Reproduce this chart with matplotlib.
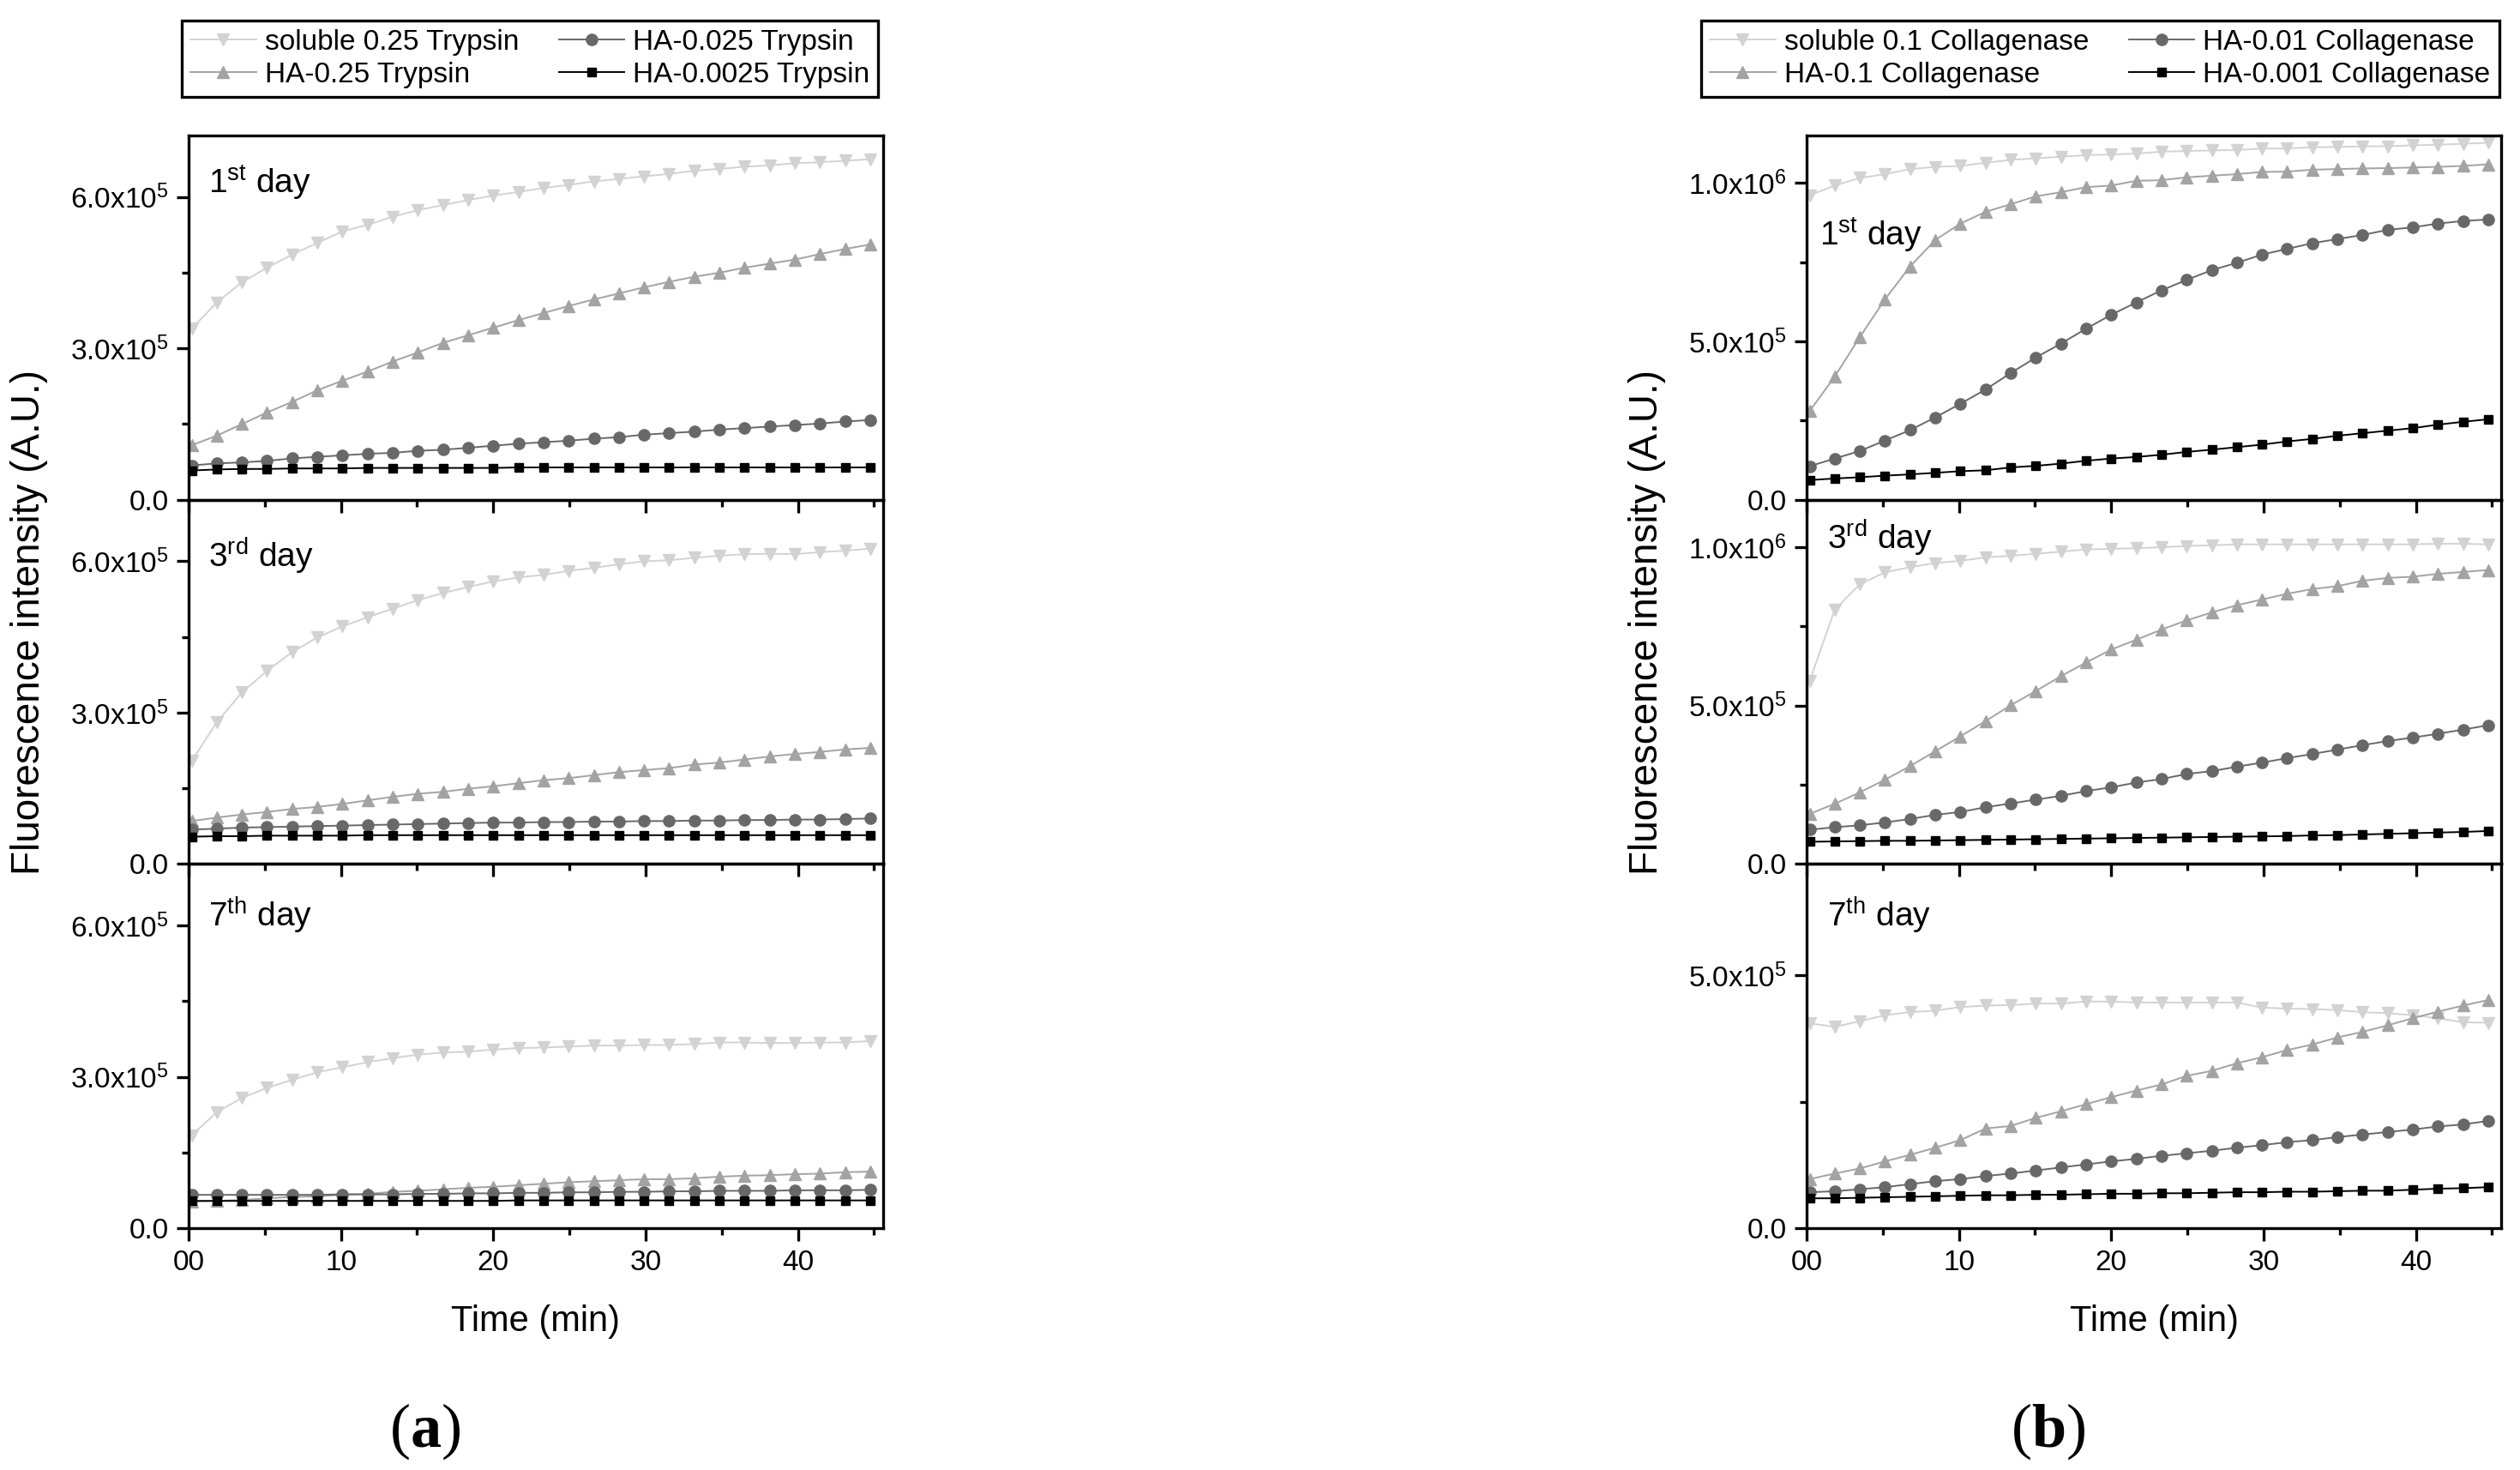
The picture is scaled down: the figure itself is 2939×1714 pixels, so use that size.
"""Fluorescence vs time for HA-bound vs soluble enzymes (trypsin / collagenase), days 1, 3, 7."""
import matplotlib

matplotlib.use("Agg")
import matplotlib.pyplot as plt  # noqa: E402
from matplotlib.lines import Line2D  # noqa: E402

plt.rcParams["font.family"] = ["Liberation Sans", "DejaVu Sans"]
plt.rcParams["mathtext.fontset"] = "custom"
plt.rcParams["mathtext.rm"] = "Liberation Sans"
plt.rcParams["mathtext.it"] = "Liberation Sans:italic"
plt.rcParams["mathtext.bf"] = "Liberation Serif:bold"

# ---- data (intensity in units of 1e5 A.U.) ----
time_min = [0.2, 1.85, 3.5, 5.15, 6.8, 8.45, 10.1, 11.75, 13.4, 15.05, 16.7, 18.35, 20.0, 21.65,
            23.3, 24.95, 26.6, 28.25, 29.9, 31.55, 33.2, 34.85, 36.5, 38.15, 39.8, 41.45, 43.1, 44.75]

# trypsin
sol_a1 = [3.39, 3.91, 4.31, 4.60, 4.86, 5.09, 5.32, 5.45, 5.61, 5.74, 5.84, 5.94, 6.03, 6.10,
          6.18, 6.24, 6.31, 6.36, 6.41, 6.46, 6.52, 6.56, 6.60, 6.63, 6.67, 6.69, 6.72, 6.75]
hi_a1 = [1.08, 1.27, 1.50, 1.73, 1.94, 2.17, 2.36, 2.54, 2.74, 2.92, 3.11, 3.26, 3.41, 3.56,
         3.70, 3.84, 3.97, 4.09, 4.21, 4.32, 4.42, 4.50, 4.60, 4.68, 4.76, 4.87, 4.97, 5.06]
mid_a1 = [0.68, 0.72, 0.74, 0.77, 0.82, 0.85, 0.88, 0.91, 0.93, 0.97, 0.99, 1.03, 1.07, 1.11,
          1.14, 1.17, 1.21, 1.24, 1.29, 1.32, 1.35, 1.39, 1.42, 1.45, 1.48, 1.51, 1.55, 1.58]
low_a1 = [0.58, 0.60, 0.61, 0.61, 0.62, 0.62, 0.62, 0.63, 0.63, 0.63, 0.63, 0.63, 0.63, 0.64,
          0.64, 0.64, 0.64, 0.64, 0.64, 0.64, 0.64, 0.64, 0.64, 0.64, 0.64, 0.64, 0.64, 0.64]

sol_a3 = [2.04, 2.81, 3.40, 3.83, 4.20, 4.49, 4.71, 4.89, 5.06, 5.23, 5.37, 5.49, 5.60, 5.68,
          5.73, 5.81, 5.87, 5.94, 6.00, 6.02, 6.07, 6.11, 6.14, 6.15, 6.14, 6.18, 6.21, 6.25]
hi_a3 = [0.85, 0.92, 0.98, 1.03, 1.09, 1.13, 1.19, 1.26, 1.33, 1.39, 1.43, 1.49, 1.54, 1.60,
         1.66, 1.70, 1.76, 1.82, 1.86, 1.90, 1.97, 2.01, 2.07, 2.13, 2.18, 2.22, 2.27, 2.30]
mid_a3 = [0.68, 0.70, 0.72, 0.73, 0.74, 0.75, 0.76, 0.77, 0.78, 0.79, 0.80, 0.81, 0.82, 0.82,
          0.83, 0.83, 0.84, 0.84, 0.85, 0.85, 0.86, 0.86, 0.87, 0.87, 0.88, 0.88, 0.89, 0.90]
low_a3 = [0.54, 0.55, 0.55, 0.56, 0.56, 0.56, 0.56, 0.57, 0.57, 0.57, 0.57, 0.57, 0.57, 0.57,
          0.57, 0.57, 0.57, 0.57, 0.57, 0.57, 0.57, 0.57, 0.57, 0.57, 0.57, 0.57, 0.57, 0.57]

sol_a7 = [1.84, 2.30, 2.58, 2.78, 2.94, 3.09, 3.19, 3.29, 3.37, 3.44, 3.48, 3.50, 3.54, 3.57,
          3.58, 3.60, 3.62, 3.62, 3.63, 3.63, 3.65, 3.68, 3.68, 3.67, 3.67, 3.68, 3.68, 3.71]
hi_a7 = [0.53, 0.54, 0.56, 0.59, 0.62, 0.63, 0.66, 0.68, 0.72, 0.74, 0.77, 0.80, 0.82, 0.85,
         0.88, 0.91, 0.93, 0.95, 0.97, 0.97, 0.99, 1.02, 1.04, 1.05, 1.07, 1.08, 1.11, 1.12]
mid_a7 = [0.66, 0.66, 0.66, 0.66, 0.66, 0.66, 0.67, 0.67, 0.67, 0.68, 0.68, 0.69, 0.69, 0.70,
          0.70, 0.71, 0.71, 0.72, 0.72, 0.73, 0.73, 0.74, 0.74, 0.74, 0.75, 0.75, 0.75, 0.76]
low_a7 = [0.54, 0.54, 0.54, 0.54, 0.54, 0.54, 0.54, 0.54, 0.54, 0.54, 0.54, 0.54, 0.54, 0.55,
          0.55, 0.55, 0.55, 0.55, 0.55, 0.55, 0.55, 0.55, 0.55, 0.55, 0.55, 0.55, 0.55, 0.55]

# collagenase
sol_b1 = [9.61, 9.92, 10.16, 10.28, 10.44, 10.51, 10.54, 10.64, 10.73, 10.78, 10.83, 10.88, 10.90, 10.93,
          10.99, 11.01, 11.03, 11.04, 11.09, 11.09, 11.13, 11.14, 11.16, 11.16, 11.19, 11.21, 11.24, 11.27]
hi_b1 = [2.80, 3.89, 5.14, 6.33, 7.37, 8.20, 8.72, 9.09, 9.33, 9.58, 9.71, 9.87, 9.92, 10.07,
         10.09, 10.18, 10.23, 10.28, 10.35, 10.36, 10.42, 10.44, 10.46, 10.47, 10.49, 10.51, 10.54, 10.59]
mid_b1 = [1.06, 1.30, 1.54, 1.87, 2.20, 2.60, 3.03, 3.48, 4.00, 4.49, 4.93, 5.40, 5.84, 6.23,
          6.61, 6.94, 7.25, 7.48, 7.74, 7.92, 8.10, 8.23, 8.36, 8.52, 8.60, 8.72, 8.80, 8.85]
low_b1 = [0.62, 0.67, 0.71, 0.76, 0.80, 0.85, 0.90, 0.93, 1.02, 1.07, 1.14, 1.23, 1.30, 1.35,
          1.42, 1.51, 1.58, 1.66, 1.74, 1.84, 1.92, 2.02, 2.10, 2.18, 2.26, 2.37, 2.46, 2.54]

sol_b3 = [5.78, 8.03, 8.83, 9.21, 9.37, 9.50, 9.57, 9.68, 9.73, 9.79, 9.86, 9.93, 9.95, 9.97,
          10.00, 10.04, 10.06, 10.09, 10.09, 10.09, 10.09, 10.09, 10.09, 10.09, 10.09, 10.11, 10.11, 10.09]
hi_b3 = [1.58, 1.90, 2.26, 2.66, 3.09, 3.56, 4.03, 4.51, 5.01, 5.46, 5.93, 6.36, 6.77, 7.08,
         7.40, 7.69, 7.94, 8.17, 8.35, 8.53, 8.68, 8.77, 8.94, 9.03, 9.07, 9.16, 9.22, 9.28]
mid_b3 = [1.08, 1.16, 1.22, 1.31, 1.42, 1.55, 1.64, 1.79, 1.91, 2.03, 2.15, 2.30, 2.42, 2.57,
          2.68, 2.84, 2.93, 3.07, 3.20, 3.34, 3.47, 3.61, 3.75, 3.88, 3.99, 4.11, 4.24, 4.38]
low_b3 = [0.70, 0.71, 0.72, 0.73, 0.73, 0.74, 0.75, 0.76, 0.77, 0.78, 0.79, 0.80, 0.81, 0.82,
          0.83, 0.84, 0.85, 0.86, 0.87, 0.88, 0.90, 0.91, 0.93, 0.95, 0.97, 0.99, 1.01, 1.04]

sol_b7 = [4.05, 3.98, 4.09, 4.21, 4.27, 4.30, 4.37, 4.40, 4.41, 4.44, 4.44, 4.48, 4.48, 4.46,
          4.46, 4.46, 4.46, 4.46, 4.36, 4.34, 4.33, 4.31, 4.27, 4.25, 4.21, 4.15, 4.07, 4.06]
hi_b7 = [0.97, 1.08, 1.18, 1.32, 1.45, 1.59, 1.74, 1.97, 2.02, 2.18, 2.31, 2.45, 2.59, 2.72,
         2.84, 3.01, 3.11, 3.26, 3.38, 3.52, 3.63, 3.77, 3.88, 4.01, 4.15, 4.28, 4.40, 4.51]
mid_b7 = [0.71, 0.73, 0.77, 0.81, 0.87, 0.93, 0.97, 1.03, 1.08, 1.14, 1.20, 1.26, 1.32, 1.37,
          1.43, 1.48, 1.53, 1.59, 1.64, 1.70, 1.74, 1.80, 1.85, 1.90, 1.95, 2.01, 2.05, 2.12]
low_b7 = [0.59, 0.59, 0.60, 0.61, 0.62, 0.63, 0.64, 0.65, 0.65, 0.66, 0.66, 0.67, 0.68, 0.68,
          0.69, 0.69, 0.70, 0.71, 0.71, 0.72, 0.72, 0.73, 0.74, 0.74, 0.76, 0.78, 0.79, 0.81]

labels_a = ["soluble 0.25 Trypsin", "HA-0.25 Trypsin", "HA-0.025 Trypsin", "HA-0.0025 Trypsin"]
labels_b = ["soluble 0.1 Collagenase", "HA-0.1 Collagenase", "HA-0.01 Collagenase", "HA-0.001 Collagenase"]
day_labels = [r"1$^{\mathrm{st}}$ day", r"3$^{\mathrm{rd}}$ day", r"7$^{\mathrm{th}}$ day"]
x_ticks = [0, 10, 20, 30, 40]
x_ticklabels = ["00", "10", "20", "30", "40"]

# ---- style ----
STYLES = [
    dict(color="#d2d2d2", marker="v", ms=10.5),
    dict(color="#a3a3a3", marker="^", ms=10.5),
    dict(color="#686868", marker="o", ms=9.5),
    dict(color="#000000", marker="s", ms=7.5),
]
W, H = 2939, 1714
LW = 2.4


def fx(px):
    return px / W


def fy(px):
    return 1 - px / H


def style_axis(ax, ylim, major, minor, ticklabels, bottom):
    ax.set_facecolor("none")
    ax.set_xlim(0, 45.6)
    ax.set_ylim(0, ylim)
    ax.set_xticks(x_ticks)
    ax.set_xticks([5, 15, 25, 35, 45], minor=True)
    ax.set_xticklabels(x_ticklabels if bottom else [])
    ax.set_yticks(major)
    ax.set_yticklabels(ticklabels)
    ax.set_yticks(minor, minor=True)
    for s in ax.spines.values():
        s.set_linewidth(LW)
    ax.tick_params(which="major", direction="out", length=11, width=LW, labelsize=24, pad=7)
    ax.tick_params(which="minor", direction="out", length=6, width=LW)
    ax.tick_params(axis="y", which="major", length=10)


fig = plt.figure(figsize=(W / 100, H / 100), dpi=100)

panel_top, panel_bot = 158, 1432
ph = (panel_bot - panel_top) / 3

sides = [
    dict(left=220, data=[(sol_a1, hi_a1, mid_a1, low_a1), (sol_a3, hi_a3, mid_a3, low_a3),
                         (sol_a7, hi_a7, mid_a7, low_a7)],
         ylims=[7.22, 7.22, 7.22],
         majors=[[0, 3, 6]] * 3, minors=[[1.5, 4.5]] * 3,
         tlabels=[["0.0", r"3.0x10$^{5}$", r"6.0x10$^{5}$"]] * 3,
         day_pos=[(0.028, 0.925), (0.028, 0.90), (0.028, 0.915)],
         labels=labels_a, leg_left=212, letter="a", letter_x=496),
    dict(left=2107, data=[(sol_b1, hi_b1, mid_b1, low_b1), (sol_b3, hi_b3, mid_b3, low_b3),
                          (sol_b7, hi_b7, mid_b7, low_b7)],
         ylims=[11.5, 11.5, 7.2],
         majors=[[0, 5, 10], [0, 5, 10], [0, 5]], minors=[[2.5, 7.5], [2.5, 7.5], [2.5]],
         tlabels=[["0.0", r"5.0x10$^{5}$", r"1.0x10$^{6}$"], ["0.0", r"5.0x10$^{5}$", r"1.0x10$^{6}$"],
                  ["0.0", r"5.0x10$^{5}$"]],
         day_pos=[(0.018, 0.78), (0.03, 0.95), (0.03, 0.915)],
         labels=labels_b, leg_left=1984, letter="b", letter_x=2389),
]

for side in sides:
    left = side["left"]
    handles = []
    # bottom panel first so upper panels' outward ticks draw on top
    for row in (2, 1, 0):
        ax = fig.add_axes([fx(left), fy(panel_top + (row + 1) * ph), 810 / W, ph / H])
        for series, st in zip(side["data"][row], STYLES):
            ax.plot(time_min, series, color=st["color"], marker=st["marker"], ms=st["ms"],
                    lw=1.4, mec=st["color"], mfc=st["color"])
        style_axis(ax, side["ylims"][row], side["majors"][row], side["minors"][row],
                   side["tlabels"][row], bottom=(row == 2))
        dx, dy = side["day_pos"][row]
        ax.text(dx, dy, day_labels[row], transform=ax.transAxes, fontsize=28,
                ha="left", va="top")
    for lab, st in zip(side["labels"], STYLES):
        handles.append(Line2D([], [], color=st["color"], marker=st["marker"], ms=st["ms"],
                              lw=1.4, mec=st["color"], mfc=st["color"], label=lab))
    leg = fig.legend(handles=handles, ncol=2, loc="upper left",
                     bbox_to_anchor=(fx(side["leg_left"]), fy(24)), fontsize=24,
                     frameon=True, fancybox=False, edgecolor="black", framealpha=1,
                     handlelength=2.3, handletextpad=0.3, columnspacing=1.4,
                     borderpad=0.3, labelspacing=0.2, borderaxespad=0)
    leg.get_frame().set_linewidth(LW)

    fig.text(fx(left - 186), fy(725), "Fluorescence intensity (A.U.)", rotation=90,
             fontsize=33, ha="center", va="center")
    fig.text(fx(left + 405), fy(1552), "Time (min)", fontsize=30, ha="center", va="baseline")
    fig.text(fx(side["letter_x"]), fy(1687), "(" + r"$\mathbf{" + side["letter"] + "}$" + ")",
             fontsize=52, family="Liberation Serif", ha="center", va="baseline")

fig.savefig("out.png", dpi=100)
